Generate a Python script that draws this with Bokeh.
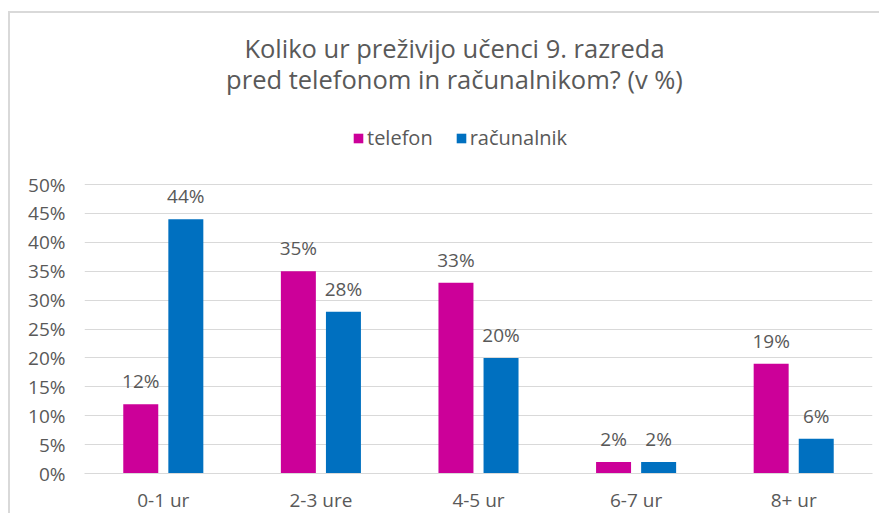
from bokeh.plotting import figure
from bokeh.models import (ColumnDataSource, FactorRange, Range1d, LabelSet, Legend,
                          LegendItem, Label, FixedTicker, PrintfTickFormatter)
from bokeh.transform import dodge
from bokeh.core.properties import value
from bokeh.embed import file_html
from bokeh.resources import INLINE

categories = ["0-1 ur", "2-3 ure", "4-5 ur", "6-7 ur", "8+ ur"]
telefon = [12, 35, 33, 2, 19]
racunalnik = [44, 28, 20, 2, 6]
y_ticks = [0, 5, 10, 15, 20, 25, 30, 35, 40, 45, 50]
title_lines = ["Koliko ur preživijo učenci 9. razreda",
               "pred telefonom in računalnikom? (v %)"]
series_names = ["telefon", "računalnik"]

MAGENTA = "#CC0099"
BLUE = "#0070C0"
TXT = "#595959"
GRID = "#d9d9d9"
FONT = "Open Sans"

# layout constants (pixels)
W, H = 871, 502
B_LEFT, B_RIGHT, B_BOTTOM = 74, 9, 42
FRAME_H = H - B_BOTTOM            # frame spans the whole height above the x axis
AXIS_H = 289                      # pixel height of 0..50 %
y_end = 50 * FRAME_H / AXIS_H

source = ColumnDataSource(dict(
    cat=categories,
    telefon=telefon,
    racunalnik=racunalnik,
    telefon_lbl=[f"{v}%" for v in telefon],
    racunalnik_lbl=[f"{v}%" for v in racunalnik],
))

p = figure(x_range=FactorRange(*categories, range_padding=0),
           y_range=Range1d(0, y_end),
           width=W, height=H,
           output_backend="svg", toolbar_location=None,
           min_border_left=B_LEFT, min_border_right=B_RIGHT,
           min_border_top=0, min_border_bottom=B_BOTTOM)
p.margin = (11, 0, 0, 8)
p.styles = {"border-left": "2px solid #d9d9d9", "border-top": "2px solid #d9d9d9"}
p.outline_line_color = None
p.background_fill_color = "white"
p.border_fill_color = "white"

bw = 0.222
off = 0.143
r1 = p.vbar(x=dodge("cat", -off, range=p.x_range), top="telefon", width=bw,
            source=source, color=MAGENTA, line_color=None)
r2 = p.vbar(x=dodge("cat", off, range=p.x_range), top="racunalnik", width=bw,
            source=source, color=BLUE, line_color=None)

for col, o in (("telefon", -off), ("racunalnik", off)):
    p.add_layout(LabelSet(x=dodge("cat", o, range=p.x_range), y=col, text=col + "_lbl",
                          source=source, text_align="center", text_baseline="alphabetic",
                          y_offset=16, text_font_size="19px", text_color=TXT,
                          text_font=value(FONT)))

p.xgrid.grid_line_color = None
p.ygrid.grid_line_color = GRID
p.ygrid.grid_line_width = 1
p.yaxis.ticker = FixedTicker(ticks=y_ticks)
p.ygrid.ticker = FixedTicker(ticks=y_ticks)
p.yaxis.formatter = PrintfTickFormatter(format="%d%%")
p.yaxis.axis_line_color = None
p.yaxis.major_tick_line_color = None
p.yaxis.minor_tick_line_color = None
p.yaxis.major_tick_in = 0
p.yaxis.major_tick_out = 0
p.yaxis.major_label_standoff = 19
p.xaxis.axis_line_color = GRID
p.xaxis.axis_line_width = 1
p.xaxis.major_tick_line_color = None
p.xaxis.minor_tick_line_color = None
p.xaxis.major_tick_in = 0
p.xaxis.major_tick_out = 0
p.xaxis.major_label_standoff = 13
for ax in (p.xaxis, p.yaxis):
    ax.major_label_text_font = FONT
    ax.major_label_text_font_size = "19px"
    ax.major_label_text_color = TXT

legend = Legend(items=[LegendItem(label=series_names[0], renderers=[r1]),
                       LegendItem(label=series_names[1], renderers=[r2])],
                orientation="horizontal", location=(268, 322),
                padding=0, margin=0, spacing=22, label_standoff=3,
                glyph_width=12, glyph_height=12,
                border_line_color=None, background_fill_alpha=0,
                label_text_font=FONT, label_text_font_size="20px",
                label_text_color=TXT)
p.add_layout(legend)

for txt, yy in zip(title_lines, (426, 395)):
    p.add_layout(Label(x=370, y=yy, x_units="screen", y_units="screen", text=txt,
                       text_align="center", text_baseline="middle",
                       text_font_size="25.5px", text_color=TXT, text_font=FONT))

open("out.html", "w").write(file_html(p, INLINE))
